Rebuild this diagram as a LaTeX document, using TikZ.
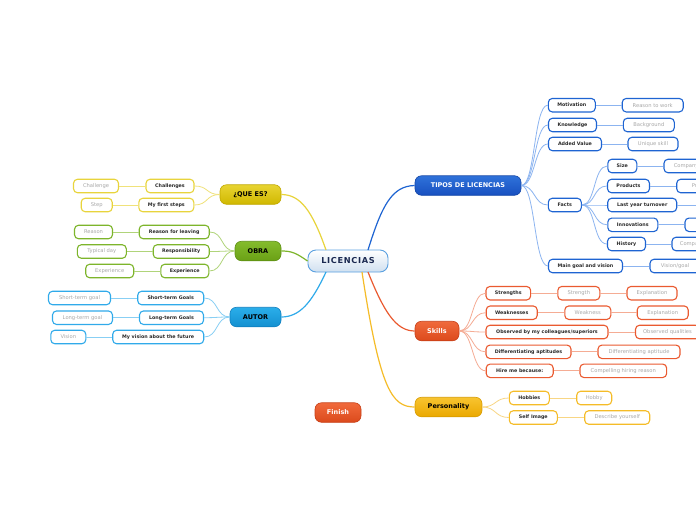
\documentclass[tikz,border=0pt]{standalone}
\usepackage{fontspec}
\setmainfont{DejaVu Sans}
\definecolor{bB}{HTML}{1E64D2}\definecolor{bBl}{HTML}{8CB4F0}
\definecolor{bY}{HTML}{E8D43C}\definecolor{bYl}{HTML}{F0E27A}
\definecolor{bG}{HTML}{7DB52B}\definecolor{bGl}{HTML}{B0D47A}
\definecolor{bC}{HTML}{30AAEA}\definecolor{bCl}{HTML}{88CFF4}
\definecolor{bR}{HTML}{EA5A30}\definecolor{bRl}{HTML}{F5AC94}
\definecolor{bO}{HTML}{F5BC28}\definecolor{bOl}{HTML}{F8D684}
\definecolor{txt}{HTML}{2A2A2A}\definecolor{ltxt}{HTML}{A8A8A8}
\definecolor{cBot}{HTML}{D0E0F0}\definecolor{cBd}{HTML}{5AA0E0}\definecolor{cTx}{HTML}{1A2850}
\definecolor{tBt}{HTML}{2F72DA}\definecolor{tBb}{HTML}{1850C0}\definecolor{tBd}{HTML}{1648A8}
\definecolor{tYt}{HTML}{E8D432}\definecolor{tYb}{HTML}{D0B800}\definecolor{tYd}{HTML}{C0A800}
\definecolor{tGt}{HTML}{84BC2C}\definecolor{tGb}{HTML}{6AA016}\definecolor{tGd}{HTML}{5E9012}
\definecolor{tCt}{HTML}{2AAEEA}\definecolor{tCb}{HTML}{1490D0}\definecolor{tCd}{HTML}{1080C0}
\definecolor{tRt}{HTML}{F06A3C}\definecolor{tRb}{HTML}{DC4A1C}\definecolor{tRd}{HTML}{C84018}
\definecolor{tOt}{HTML}{F8C430}\definecolor{tOb}{HTML}{EAA800}\definecolor{tOd}{HTML}{D89C00}
\tikzset{
 sub/.style={draw, rounded corners=4pt, line width=1.1pt, fill=white, minimum height=13.5pt, inner sep=1pt,
   font=\fontsize{4.8}{5}\selectfont\bfseries, text=txt},
 leaf/.style={sub, font=\fontsize{5.2}{6}\selectfont, text=ltxt},
 topic/.style={rounded corners=6.5pt, minimum height=19.5pt, inner sep=1pt, line width=0.6pt,
   font=\fontsize{6.5}{7}\selectfont\bfseries},
 lnk/.style={line width=0.8pt},
 mainlnk/.style={line width=1.2pt},
}
\begin{document}
\begin{tikzpicture}[x=1pt,y=-1pt]
\useasboundingbox (0,0) rectangle (696,520);
\clip (0,0) rectangle (696,520);
\fill[white] (0,0) rectangle (696,520);

% central
\node[topic, rounded corners=8pt, minimum width=80pt, minimum height=22pt, top color=white, bottom color=cBot,
  draw=cBd, line width=0.9pt, font=\fontsize{8.2}{9}\selectfont\bfseries\addfontfeatures{LetterSpace=8}, text=cTx] (c) at (348,261) {LICENCIAS};

% main topics
\node[topic, minimum width=106pt, top color=tBt, bottom color=tBb, draw=tBd, text=white] (tipos) at (468,185.5) {TIPOS DE LICENCIAS};
\node[topic, minimum width=61pt, top color=tYt, bottom color=tYb, draw=tYd, text=black] (que) at (250.5,194.5) {¿QUE ES?};
\node[topic, minimum width=46pt, top color=tGt, bottom color=tGb, draw=tGd, text=black] (obra) at (258,251) {OBRA};
\node[topic, minimum width=51pt, top color=tCt, bottom color=tCb, draw=tCd, text=black] (autor) at (255.5,317) {AUTOR};
\node[topic, minimum width=44pt, top color=tRt, bottom color=tRb, draw=tRd, text=white] (skills) at (437,331) {Skills};
\node[topic, minimum width=67pt, top color=tOt, bottom color=tOb, draw=tOd, text=black] (pers) at (448.5,407) {Personality};
\node[topic, minimum width=46pt, top color=tRt, bottom color=tRb, draw=tRd, text=white] (finish) at (338,412.5) {Finish};

% central links
\coordinate (cT) at (368,250);
\coordinate (cY) at (326,250);
\coordinate (cA) at (326,272);
\coordinate (cS) at (368,272);
\coordinate (cP) at (362,272);
\draw[mainlnk, bB] (cT) .. controls (382,205) and (392,186) .. (tipos.west);
\draw[mainlnk, bY] (cY) .. controls (312,210) and (300,194.5) .. (que.east);
\draw[mainlnk, bG] (c.west) .. controls (296,253) and (292,251) .. (obra.east);
\draw[mainlnk, bC] (cA) .. controls (312,302) and (300,317) .. (autor.east);
\draw[mainlnk, bR] (cS) .. controls (384,312) and (396,331) .. (skills.west);
\draw[mainlnk, bO] (cP) .. controls (380,390) and (392,407) .. (pers.west);

% ---- QUE ES
\node[sub, draw=bY, minimum width=48pt] (q1) at (170,186) {Challenges};
\node[leaf, draw=bY, minimum width=45pt] (q1a) at (96,186) {Challenge};
\node[sub, draw=bY, minimum width=55pt] (q2) at (166.3,205) {My first steps};
\node[leaf, draw=bY, minimum width=31pt] (q2a) at (96.7,205) {Step};
\foreach \n in {q1,q2} \draw[lnk,bYl] (que.west) .. controls +(-14,0) and +(14,0) .. (\n.east);
\draw[lnk,bYl] (q1.west) -- (q1a.east);
\draw[lnk,bYl] (q2.west) -- (q2a.east);

% ---- OBRA
\node[sub, draw=bG, minimum width=70pt] (o1) at (174.2,232) {Reason for leaving};
\node[leaf, draw=bG, minimum width=38pt] (o1a) at (93.5,232) {Reason};
\node[sub, draw=bG, minimum width=56pt] (o2) at (181.2,251.5) {Responsibility};
\node[leaf, draw=bG, minimum width=49pt] (o2a) at (101.8,251.5) {Typical day};
\node[sub, draw=bG, minimum width=48pt] (o3) at (184.8,271) {Experience};
\node[leaf, draw=bG, minimum width=48pt] (o3a) at (109.7,271) {Experience};
\foreach \n in {o1,o2,o3} \draw[lnk,bGl] (obra.west) .. controls +(-14,0) and +(14,0) .. (\n.east);
\foreach \n in {o1,o2,o3} \draw[lnk,bGl] (\n.west) -- (\n a.east);

% ---- AUTOR
\node[sub, draw=bC, minimum width=66pt] (a1) at (170.7,298) {Short-term Goals};
\node[leaf, draw=bC, minimum width=62pt] (a1a) at (79.5,298) {Short-term goal};
\node[sub, draw=bC, minimum width=64pt] (a2) at (171.5,317.7) {Long-term Goals};
\node[leaf, draw=bC, minimum width=60pt] (a2a) at (82.5,317.7) {Long-term goal};
\node[sub, draw=bC, minimum width=91pt] (a3) at (158.2,337) {My vision about the future};
\node[leaf, draw=bC, minimum width=35pt] (a3a) at (68.3,337) {Vision};
\foreach \n in {a1,a2,a3} \draw[lnk,bCl] (autor.west) .. controls +(-14,0) and +(14,0) .. (\n.east);
\foreach \n in {a1,a2,a3} \draw[lnk,bCl] (\n.west) -- (\n a.east);

% ---- TIPOS
\node[sub, draw=bB, minimum width=47pt] (t1) at (571.8,105.2) {Motivation};
\node[leaf, draw=bB, minimum width=61pt] (t1a) at (652.7,105.2) {Reason to work};
\node[sub, draw=bB, minimum width=48pt] (t2) at (572.5,125) {Knowledge};
\node[leaf, draw=bB, minimum width=51pt] (t2a) at (648.8,125) {Background};
\node[sub, draw=bB, minimum width=53pt] (t3) at (575,144) {Added Value};
\node[leaf, draw=bB, minimum width=50pt] (t3a) at (653,144) {Unique skill};
\node[sub, draw=bB, minimum width=33pt] (t4) at (564.8,205) {Facts};
\node[sub, draw=bB, minimum width=74pt] (t5) at (585.5,266) {Main goal and vision};
\node[leaf, draw=bB, minimum width=50pt] (t5a) at (675,266) {Vision/goal};
\foreach \n in {t1,t2,t3,t4,t5} \draw[lnk,bBl] (tipos.east) .. controls +(14,0) and +(-14,0) .. (\n.west);
\foreach \n in {t1,t2,t3,t5} \draw[lnk,bBl] (\n.east) -- (\n a.west);

\node[sub, draw=bB, minimum width=29pt] (f1) at (622.3,166) {Size};
\node[leaf, draw=bB, minimum width=56pt] (f1a) at (692,166) {Company size};
\node[sub, draw=bB, minimum width=42pt] (f2) at (628.5,186) {Products};
\node[leaf, draw=bB, minimum width=50pt] (f2a) at (701.7,186) {Product};
\node[sub, draw=bB, minimum width=69pt] (f3) at (642.2,205) {Last year turnover};
\node[leaf, draw=bB, minimum width=50pt] (f3a) at (723,205) {Turnover};
\node[sub, draw=bB, minimum width=50pt] (f4) at (632.8,224.8) {Innovations};
\node[leaf, draw=bB, minimum width=50pt] (f4a) at (710,224.8) {Innovation};
\node[sub, draw=bB, minimum width=38pt] (f5) at (626.5,244) {History};
\node[leaf, draw=bB, minimum width=60pt] (f5a) at (702,244) {Company history};
\foreach \n in {f1,f2,f3,f4,f5} \draw[lnk,bBl] (t4.east) .. controls +(14,0) and +(-14,0) .. (\n.west);
\foreach \n in {f1,f2,f3,f4,f5} \draw[lnk,bBl] (\n.east) -- (\n a.west);

% ---- SKILLS
\node[sub, draw=bR, minimum width=44.7pt] (s1) at (508.3,293.2) {Strengths};
\node[leaf, draw=bR, minimum width=42pt] (s1a) at (578.8,293.2) {Strength};
\node[leaf, draw=bR, minimum width=50pt] (s1b) at (652,293.2) {Explanation};
\node[sub, draw=bR, minimum width=51pt] (s2) at (511.7,312.7) {Weaknesses};
\node[leaf, draw=bR, minimum width=46pt] (s2a) at (587.8,312.7) {Weakness};
\node[leaf, draw=bR, minimum width=51pt] (s2b) at (662.7,312.7) {Explanation};
\node[sub, draw=bR, minimum width=122pt] (s3) at (547,332) {Observed by my colleagues/superiors};
\node[leaf, draw=bR, minimum width=64pt] (s3a) at (667.5,332) {Observed qualities};
\node[sub, draw=bR, minimum width=85pt] (s4) at (528.5,351.8) {Differentiating aptitudes};
\node[leaf, draw=bR, minimum width=82pt] (s4a) at (639,351.8) {Differentiating aptitude};
\node[sub, draw=bR, minimum width=67pt] (s5) at (519.7,370.8) {Hire me because:};
\node[leaf, draw=bR, minimum width=86.7pt] (s5a) at (623.3,370.8) {Compelling hiring reason};
\foreach \n in {s1,s2,s3,s4,s5} \draw[lnk,bRl] (skills.east) .. controls +(14,0) and +(-14,0) .. (\n.west);
\foreach \n in {s1,s2,s3,s4,s5} \draw[lnk,bRl] (\n.east) -- (\n a.west);
\draw[lnk,bRl] (s1a.east) -- (s1b.west);
\draw[lnk,bRl] (s2a.east) -- (s2b.west);

% ---- PERSONALITY
\node[sub, draw=bO, minimum width=40pt] (p1) at (529.3,398) {Hobbies};
\node[leaf, draw=bO, minimum width=35pt] (p1a) at (594.2,398) {Hobby};
\node[sub, draw=bO, minimum width=48pt] (p2) at (533.3,417.5) {Self Image};
\node[leaf, draw=bO, minimum width=65pt] (p2a) at (617.2,417.5) {Describe yourself};
\foreach \n in {p1,p2} \draw[lnk,bOl] (pers.east) .. controls +(14,0) and +(-14,0) .. (\n.west);
\foreach \n in {p1,p2} \draw[lnk,bOl] (\n.east) -- (\n a.west);
\end{tikzpicture}
\end{document}
